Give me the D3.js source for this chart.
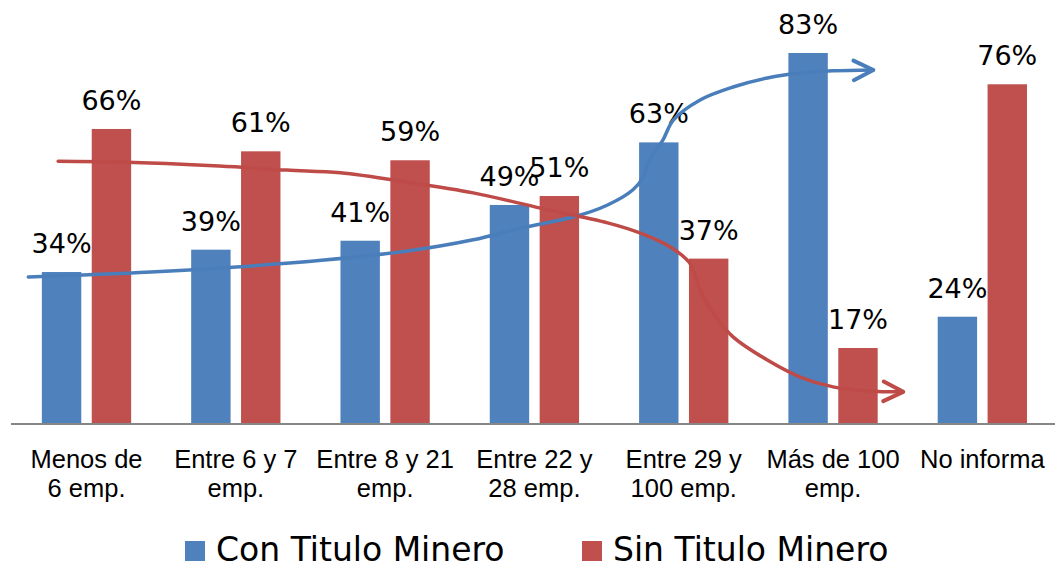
<!DOCTYPE html>
<html>
<head>
<meta charset="utf-8">
<script src="https://cdn.jsdelivr.net/npm/d3@7"></script>
<style>
  html, body { margin: 0; padding: 0; background: #fff; }
  svg { display: block; font-family: "DejaVu Sans", sans-serif; }
</style>
</head>
<body>
<svg id="chart" width="1055" height="569"></svg>
<script>
// ---- data ----
const categories = ["Menos de\n6 emp.", "Entre 6 y 7\nemp.", "Entre 8 y 21\nemp.", "Entre 22 y\n28 emp.", "Entre 29 y\n100 emp.", "Más de 100\nemp.", "No informa"];
const seriesNames = ["Con Titulo Minero", "Sin Titulo Minero"];
const conTitulo = [34, 39, 41, 49, 63, 83, 24];
const sinTitulo = [66, 61, 59, 51, 37, 17, 76];
const seriesColors = ["#4F81BD", "#C0504D"];
const trendColors = ["#4A7EBB", "#BE4B48"];
// hand-drawn trend arrows, in (category index, percent) space
const trendCon = [[-0.39,32.9],[0.43,34.0],[1.36,36.0],[2.15,38.7],[2.59,41.2],[2.92,43.9],[3.26,46.3],[3.49,49.0],[3.66,52.4],[3.73,55.3],[3.77,59.1],[3.86,63.5],[3.93,68.0],[4.11,72.5],[4.33,75.4],[4.56,77.4],[4.78,78.5],[5.0,79.0],[5.27,79.2]];
const trendSin = [[-0.19,58.8],[0.22,58.6],[0.89,57.7],[1.34,56.8],[1.70,56.2],[2.15,54.1],[2.59,51.7],[3.04,48.3],[3.49,45.0],[3.71,42.7],[3.91,39.6],[4.04,36.0],[4.11,30.0],[4.22,23.7],[4.33,19.5],[4.56,14.3],[4.78,10.5],[5.0,8.3],[5.23,7.4],[5.47,7.2]];

// ---- layout ----
const svg = d3.select("#chart");
const baseY = 424;
const y = d3.scaleLinear().domain([0, 100]).range([baseY, baseY - 447]);
const x0 = d3.scaleBand().domain(categories).range([11.85, 1057]).paddingInner(0.402).paddingOuter(0.201);
const x1 = d3.scaleBand().domain(seriesNames).range([0, x0.bandwidth()]).paddingInner(0.21);
const xi = d3.scaleLinear().domain([0, 6])
  .range([x0(categories[0]) + x0.bandwidth() / 2, x0(categories[6]) + x0.bandwidth() / 2]);

const rows = categories.map((c, i) => ({ cat: c, vals: [conTitulo[i], sinTitulo[i]] }));

// bars
const g = svg.selectAll("g.grp").data(rows).enter().append("g")
  .attr("class", "grp").attr("transform", d => `translate(${x0(d.cat)},0)`);
g.selectAll("rect").data(d => d.vals.map((v, k) => ({ v, k }))).enter().append("rect")
  .attr("x", d => x1(seriesNames[d.k]))
  .attr("width", x1.bandwidth())
  .attr("y", d => y(d.v))
  .attr("height", d => baseY - y(d.v))
  .attr("fill", d => seriesColors[d.k]);

// data labels
g.selectAll("text.lbl").data(d => d.vals.map((v, k) => ({ v, k }))).enter().append("text")
  .attr("class", "lbl")
  .attr("x", d => x1(seriesNames[d.k]) + x1.bandwidth() / 2)
  .attr("y", d => y(d.v) - 19)
  .attr("text-anchor", "middle")
  .attr("font-size", 27)
  .attr("fill", "#000")
  .text(d => d.v + "%");

// x axis
const axis = svg.append("g").attr("transform", `translate(0,${baseY})`)
  .call(d3.axisBottom(x0).tickSize(0).tickFormat(""));
axis.select(".domain").attr("stroke", "#868686").attr("stroke-width", 2.2)
  .attr("d", "M11,0H1055");
axis.selectAll(".tick").each(function (d) {
  const t = d3.select(this).append("text")
    .attr("fill", "#000").attr("font-size", 25.5).attr("text-anchor", "middle");
  d.split("\n").forEach((line, j) => {
    t.append("tspan").attr("x", 0).attr("y", 44 + j * 29).text(line);
  });
});

// trend arrows
function drawTrend(pts, color) {
  const p = pts.map(d => [xi(d[0]), y(d[1])]);
  const line = d3.line().curve(d3.curveCatmullRom.alpha(0.5));
  svg.append("path").attr("d", line(p)).attr("fill", "none")
    .attr("stroke", color).attr("stroke-width", 3.5).attr("stroke-linecap", "round");
  const tip = p[p.length - 1], prev = p[p.length - 2];
  const ang = Math.atan2(tip[1] - prev[1], tip[0] - prev[0]);
  const arm = (s) => {
    const a = ang + Math.PI + s * 0.46;
    return [tip[0] + 22 * Math.cos(a), tip[1] + 22 * Math.sin(a)];
  };
  svg.append("path").attr("d", d3.line()([arm(1), tip, arm(-1)]))
    .attr("fill", "none").attr("stroke", color).attr("stroke-width", 4)
    .attr("stroke-linecap", "round").attr("stroke-linejoin", "round");
}
drawTrend(trendCon, trendColors[0]);
drawTrend(trendSin, trendColors[1]);

// legend
const legX = [185, 582];
const leg = svg.selectAll("g.leg").data(seriesNames).enter().append("g")
  .attr("class", "leg").attr("transform", (d, i) => `translate(${legX[i]},541)`);
leg.append("rect").attr("width", 20).attr("height", 20).attr("fill", (d, i) => seriesColors[i]);
leg.append("text").attr("x", 31).attr("y", 20).attr("font-size", 33).attr("fill", "#000").text(d => d);
</script>
</body>
</html>
